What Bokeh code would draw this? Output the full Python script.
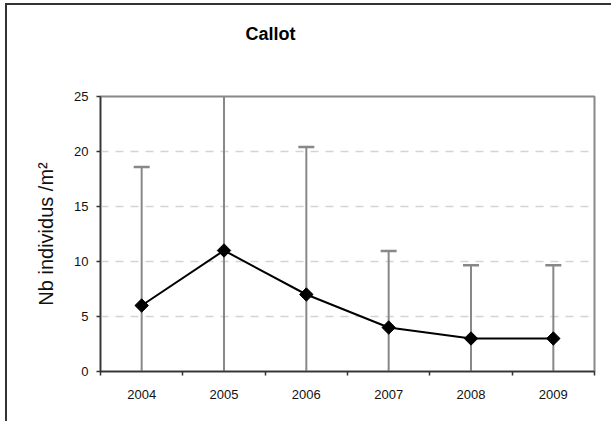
from bokeh.plotting import figure
from bokeh.models import FixedTicker, Range1d, ColumnDataSource
from bokeh.embed import file_html
from bokeh.resources import INLINE
import numpy as np

# ---- data ----
years = ["2004", "2005", "2006", "2007", "2008", "2009"]
means = [6, 11, 7, 4, 3, 3]
upper = [18.6, 25.5, 20.4, 10.95, 9.65, 9.65]
y_ticks = [0, 5, 10, 15, 20, 25]
chart_title = "Callot"

xs = list(range(len(years)))
lower = [2 * m - u for m, u in zip(means, upper)]
src = ColumnDataSource(dict(x=xs, m=means, up=upper, lo=lower))

FONT = "Liberation Sans"

p = figure(width=606, height=418, output_backend="svg", toolbar_location=None,
           x_range=Range1d(-0.5, len(years) - 0.5), y_range=Range1d(0, 25),
           min_border_left=93, min_border_right=19, min_border_top=91, min_border_bottom=52)
p.stylesheets = [":host { margin-left: 5px; margin-top: 3px; "
                 "border-left: 2px solid #333333; border-top: 2px solid #333333; }"]

p.background_fill_color = "white"
p.border_fill_color = "white"
p.outline_line_color = "#888888"
p.outline_line_width = 2

# title: trailing blank lines keep it high above the plot area
p.title.text = chart_title + "\n\n"
p.title.align = "left"
p.title.offset = 145
p.title.standoff = 26
p.title.text_font = FONT
p.title.text_font_size = "18px"
p.title.text_font_style = "bold"
p.title.text_color = "black"

# grid
p.xgrid.visible = False
p.ygrid.ticker = FixedTicker(ticks=y_ticks)
p.ygrid.grid_line_color = "#d4d4d4"
p.ygrid.grid_line_width = 1.5
p.ygrid.grid_line_dash = "8 7"

# x axis
p.xaxis.ticker = FixedTicker(ticks=xs, minor_ticks=[i - 0.5 for i in range(len(years) + 1)])
p.xaxis.major_label_overrides = {i: y for i, y in enumerate(years)}
p.xaxis.major_tick_out = 0
p.xaxis.major_tick_in = 0
p.xaxis.minor_tick_out = 4
p.xaxis.minor_tick_in = 0
p.xaxis.minor_tick_line_color = "#333333"
p.xaxis.minor_tick_line_width = 1.5
p.xaxis.axis_line_color = "#333333"
p.xaxis.axis_line_width = 1.5
p.xaxis.major_label_text_font = FONT
p.xaxis.major_label_text_font_size = "13px"
p.xaxis.major_label_text_color = "#111111"
p.xaxis.major_label_standoff = 14

# y axis
p.yaxis.ticker = FixedTicker(ticks=y_ticks)
p.yaxis.major_tick_out = 4
p.yaxis.major_tick_in = 0
p.yaxis.minor_tick_line_color = None
p.yaxis.major_tick_line_color = "#333333"
p.yaxis.major_tick_line_width = 1.5
p.yaxis.axis_line_color = "#333333"
p.yaxis.axis_line_width = 1.5
p.yaxis.major_label_text_font = FONT
p.yaxis.major_label_text_font_size = "13px"
p.yaxis.major_label_text_color = "#111111"
p.yaxis.major_label_standoff = 8
p.yaxis.axis_label = "Nb individus /m²"
p.yaxis.axis_label_text_font = FONT
p.yaxis.axis_label_text_font_size = "20px"
p.yaxis.axis_label_text_font_style = "normal"
p.yaxis.axis_label_text_color = "#111111"
p.yaxis.axis_label_standoff = 14

# error bars
p.segment(x0="x", y0="lo", x1="x", y1="up", source=src, line_color="#888888", line_width=2)
p.dash(x="x", y="up", source=src, size=16, line_color="#888888", line_width=2.5)

# line + markers
p.line(x="x", y="m", source=src, line_color="black", line_width=2)
p.scatter(x="x", y="m", source=src, marker="square", size=9.5, angle=np.pi / 4,
          fill_color="black", line_color="black")

open("out.html", "w").write(file_html(p, INLINE))
